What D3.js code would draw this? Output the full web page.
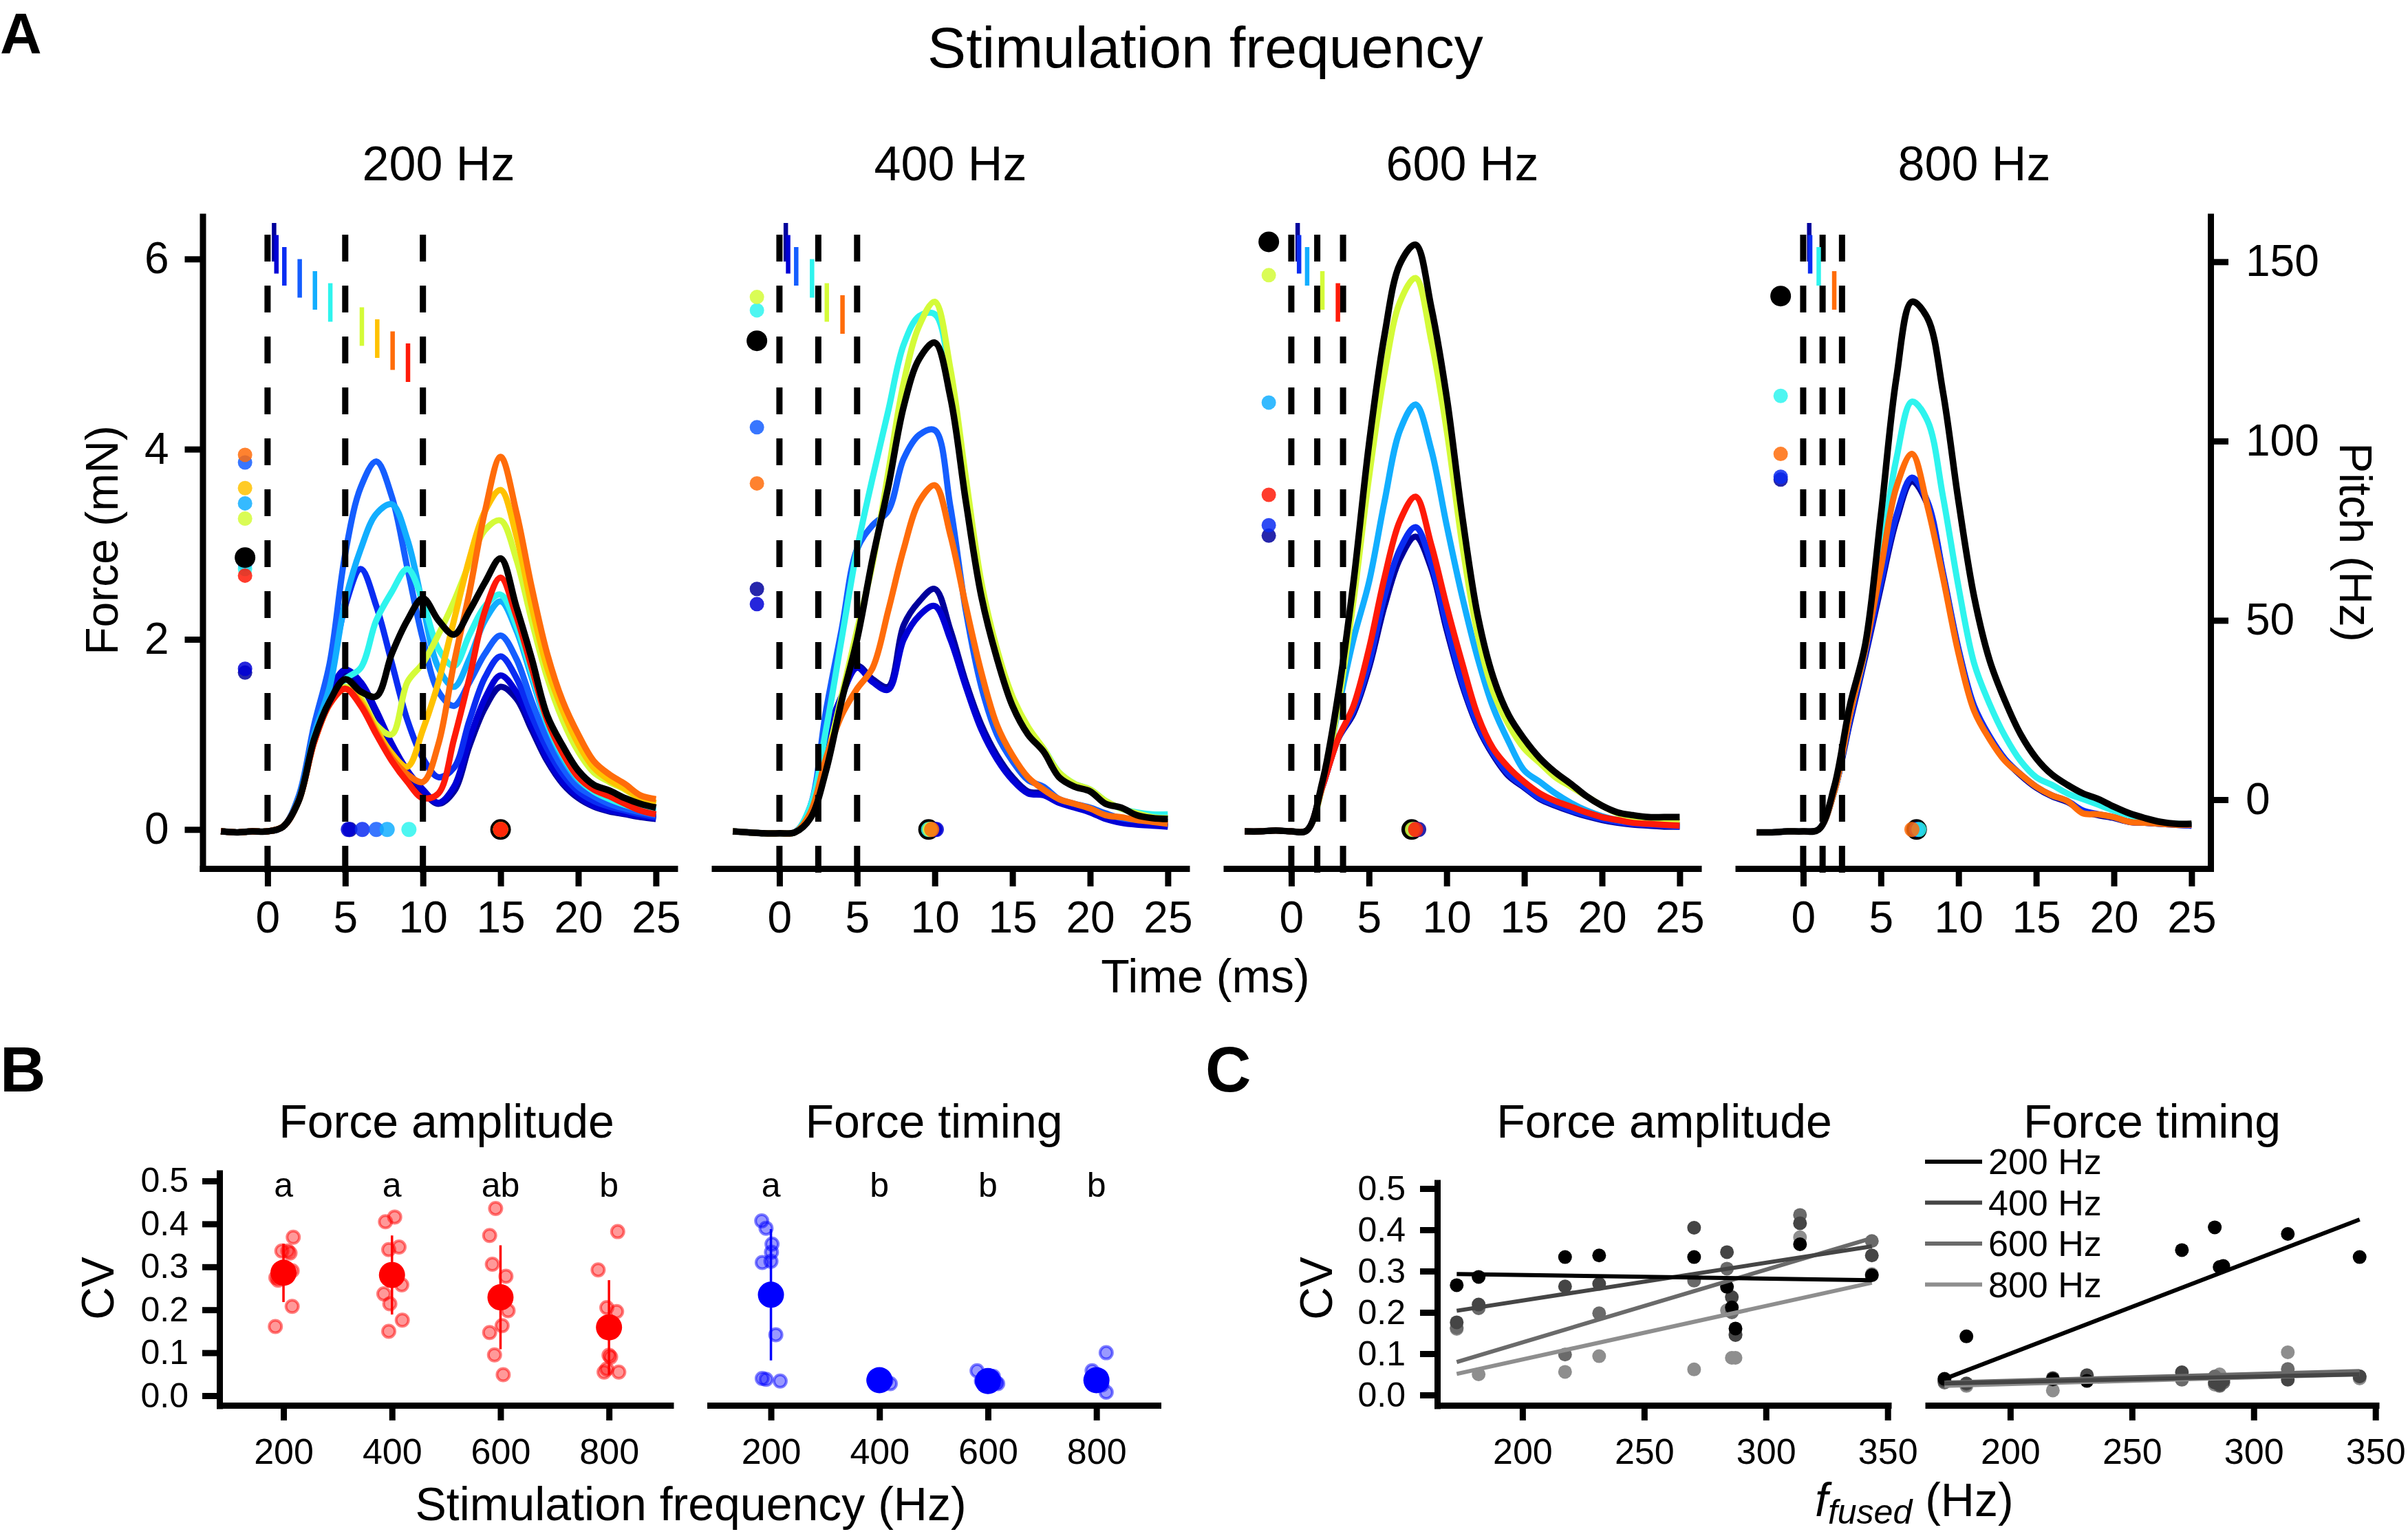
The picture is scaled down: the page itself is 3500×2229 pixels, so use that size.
<!DOCTYPE html>
<html><head><meta charset="utf-8">
<script src="https://cdn.jsdelivr.net/npm/d3@7"></script>
<style>body{margin:0;background:#fff}svg{display:block}</style>
</head><body><svg id="fig" width="3500" height="2229"></svg>
<script>
// ---------------- DATA : panel A ----------------
const timeMs = [-3,-2,-1,0,1,2,3,4,5,6,7,8,9,10,11,12,13,14,15,16,17,18,19,20,21,22,23,24,25];
const panelTitles = ["200 Hz","400 Hz","600 Hz","800 Hz"];
const pulseTimes = [[0,5,10],[0,2.5,5],[0,1.67,3.33],[0,1.25,2.5]];
const forceTicks = [0,2,4,6];
const pitchTicks = [0,50,100,150];
const timeTicks = [0,5,10,15,20,25];

// 200 Hz traces (force, mN, at timeMs)
const f200_navy   = [-0.02,-0.03,-0.02,-0.02,0.03,0.32,1.0,1.45,1.65,1.52,1.22,0.88,0.6,0.4,0.27,0.4,0.88,1.28,1.5,1.38,1.05,0.72,0.48,0.33,0.24,0.19,0.16,0.13,0.11];
const f200_dblue  = [-0.02,-0.03,-0.02,-0.02,0.03,0.32,1.0,1.45,1.68,1.55,1.25,0.9,0.62,0.42,0.28,0.45,0.95,1.38,1.62,1.45,1.1,0.75,0.5,0.35,0.25,0.2,0.17,0.14,0.12];
const f200_blue   = [-0.02,-0.03,-0.02,-0.02,0.03,0.33,1.05,1.6,2.35,2.74,2.35,1.75,1.15,0.75,0.55,0.65,1.15,1.6,1.82,1.6,1.2,0.85,0.58,0.4,0.3,0.24,0.2,0.16,0.13];
const f200_royal  = [-0.02,-0.03,-0.02,-0.02,0.03,0.35,1.1,1.75,2.9,3.6,3.87,3.5,2.75,2.0,1.45,1.3,1.55,1.85,2.04,1.8,1.35,0.95,0.65,0.45,0.35,0.27,0.22,0.18,0.15];
const f200_lblue  = [-0.02,-0.03,-0.02,-0.02,0.03,0.32,1.0,1.5,2.4,2.95,3.32,3.42,3.05,2.35,1.7,1.5,1.8,2.2,2.4,2.1,1.6,1.1,0.75,0.52,0.4,0.32,0.26,0.22,0.2];
const f200_cyan   = [-0.02,-0.03,-0.02,-0.02,0.03,0.3,0.95,1.35,1.58,1.7,2.2,2.5,2.74,2.4,1.9,1.72,2.05,2.35,2.47,2.15,1.65,1.12,0.78,0.54,0.4,0.32,0.26,0.21,0.19];
const f200_yg     = [-0.02,-0.03,-0.02,-0.02,0.03,0.3,0.92,1.32,1.5,1.38,1.1,1.0,1.55,1.75,2.05,2.4,2.8,3.15,3.25,2.85,2.2,1.6,1.15,0.82,0.6,0.5,0.42,0.32,0.27];
const f200_gold   = [-0.02,-0.03,-0.02,-0.02,0.03,0.3,0.92,1.32,1.48,1.35,1.05,0.8,0.66,1.05,1.55,2.2,2.85,3.35,3.57,3.1,2.35,1.7,1.25,0.9,0.65,0.52,0.43,0.33,0.28];
const f200_orange = [-0.02,-0.03,-0.02,-0.02,0.03,0.3,0.92,1.32,1.48,1.32,1.02,0.75,0.58,0.5,0.9,1.75,2.5,3.35,3.92,3.35,2.55,1.85,1.35,1.0,0.72,0.58,0.48,0.36,0.32];
const f200_red    = [-0.02,-0.03,-0.02,-0.02,0.03,0.3,0.92,1.32,1.48,1.3,1.0,0.72,0.5,0.33,0.38,0.95,1.6,2.3,2.65,2.25,1.7,1.15,0.8,0.55,0.42,0.35,0.27,0.2,0.16];
const f200_black  = [-0.02,-0.03,-0.02,-0.02,0.03,0.3,0.95,1.35,1.58,1.45,1.4,1.85,2.2,2.43,2.2,2.05,2.3,2.6,2.85,2.35,1.8,1.2,0.88,0.62,0.47,0.41,0.33,0.27,0.23];
const keys200   = ["navy","dblue","blue","royal","lblue","cyan","yg","gold","orange","red","black"];
const max200    = [1.65,1.69,2.79,3.86,3.43,2.74,3.27,3.59,3.94,2.67,2.86];
const peakT200  = [5.3,5.2,6.1,7.0,7.7,9.1,15,15,15,15,15];
const bar200    = [0.42,0.57,1.08,2.07,3.05,4.04,6.07,7.06,8.05,9.04];
const barRow200 = [0,1,2,3,4,5,7,8,9,10];

// 400 Hz traces
const f400_navy   = [-0.02,-0.03,-0.04,-0.04,-0.03,0.2,0.95,1.4,1.72,1.58,1.5,2.15,2.4,2.53,2.1,1.55,1.1,0.78,0.55,0.4,0.38,0.3,0.25,0.2,0.12,0.08,0.06,0.05,0.04];
const f400_dblue  = [-0.02,-0.03,-0.04,-0.04,-0.03,0.2,0.95,1.4,1.7,1.55,1.47,2.0,2.25,2.35,2.0,1.5,1.05,0.74,0.52,0.38,0.36,0.28,0.23,0.18,0.11,0.07,0.05,0.04,0.03];
const f400_royal  = [-0.02,-0.03,-0.04,-0.04,-0.03,0.25,1.25,2.1,2.95,3.2,3.35,3.9,4.15,4.2,3.4,2.3,1.5,1.0,0.72,0.52,0.45,0.32,0.27,0.23,0.17,0.12,0.1,0.1,0.08];
const f400_cyan   = [-0.02,-0.03,-0.04,-0.04,-0.03,0.25,1.05,2.0,2.95,3.7,4.4,5.1,5.4,5.42,4.75,3.6,2.55,1.85,1.35,1.05,0.85,0.6,0.48,0.42,0.3,0.22,0.18,0.16,0.16];
const f400_yg     = [-0.02,-0.03,-0.04,-0.04,-0.03,0.15,0.72,1.4,2.1,2.8,3.75,4.7,5.3,5.55,4.85,3.7,2.6,1.9,1.4,1.08,0.85,0.6,0.48,0.42,0.3,0.22,0.17,0.13,0.12];
const f400_orange = [-0.02,-0.03,-0.04,-0.04,-0.03,0.18,0.75,1.2,1.48,1.7,2.3,2.95,3.45,3.62,3.1,2.35,1.65,1.1,0.78,0.55,0.42,0.32,0.27,0.22,0.15,0.13,0.1,0.08,0.06];
const f400_black  = [-0.02,-0.03,-0.04,-0.04,-0.03,0.12,0.62,1.35,2.0,2.85,3.6,4.45,4.95,5.12,4.55,3.45,2.45,1.8,1.3,1.0,0.82,0.55,0.45,0.4,0.27,0.23,0.15,0.12,0.11];
const keys400   = ["navy","dblue","royal","cyan","yg","orange","black"];
const max400    = [2.53,2.37,4.23,5.46,5.6,3.64,5.14];
const peakT400  = [10.0,10.1,9.7,9.6,9.7,9.8,9.6];
const bar400    = [0.41,0.56,1.08,2.1,3.05,4.06];
const barRow400 = [0,1,2,3,5,6];

// 600 Hz traces
const f600_navy   = [-0.02,-0.02,-0.01,-0.02,-0.01,0.45,0.95,1.22,1.7,2.35,2.85,3.08,2.75,2.1,1.52,1.08,0.78,0.56,0.44,0.32,0.25,0.19,0.14,0.1,0.07,0.05,0.04,0.03,0.03];
const f600_blue   = [-0.02,-0.02,-0.01,-0.02,-0.01,0.45,0.95,1.25,1.75,2.45,2.95,3.18,2.8,2.15,1.55,1.1,0.8,0.58,0.45,0.33,0.26,0.2,0.15,0.11,0.08,0.06,0.05,0.04,0.03];
const f600_lblue  = [-0.02,-0.02,-0.01,-0.02,-0.01,0.45,1.25,2.0,2.6,3.45,4.2,4.47,4.0,3.2,2.45,1.8,1.28,0.92,0.62,0.5,0.38,0.28,0.2,0.14,0.1,0.08,0.07,0.06,0.05];
const f600_yg     = [-0.02,-0.02,-0.01,-0.02,-0.01,0.45,1.3,2.4,3.7,4.8,5.55,5.8,5.15,4.2,3.0,2.05,1.45,1.1,0.85,0.7,0.55,0.45,0.35,0.25,0.17,0.12,0.1,0.09,0.08];
const f600_red    = [-0.02,-0.02,-0.01,-0.02,-0.01,0.45,0.95,1.3,1.9,2.65,3.25,3.5,3.0,2.35,1.75,1.2,0.85,0.65,0.5,0.38,0.3,0.24,0.18,0.13,0.1,0.07,0.06,0.05,0.04];
const f600_black  = [-0.02,-0.02,-0.01,-0.02,-0.01,0.5,1.4,2.6,4.05,5.2,5.95,6.15,5.5,4.55,3.3,2.25,1.6,1.2,0.95,0.75,0.6,0.48,0.35,0.25,0.18,0.15,0.13,0.13,0.13];
const keys600   = ["navy","blue","lblue","yg","red","black"];
const max600    = [3.09,3.2,4.49,5.83,3.52,6.18];
const peakT600  = [8.2,8.0,7.9,7.8,8.0,7.75];
const bar600    = [0.41,0.5,1.02,2.0,3.0];
const barRow600 = [0,1,2,4,5];

// 800 Hz traces
const f800_navy   = [-0.03,-0.03,-0.02,-0.02,0.0,0.4,1.12,1.82,2.55,3.25,3.66,3.42,2.68,1.88,1.28,0.97,0.73,0.57,0.44,0.35,0.29,0.19,0.15,0.12,0.08,0.07,0.06,0.05,0.04];
const f800_blue   = [-0.03,-0.03,-0.02,-0.02,0.0,0.4,1.15,1.85,2.6,3.3,3.7,3.45,2.7,1.9,1.3,0.98,0.74,0.58,0.45,0.36,0.3,0.2,0.16,0.13,0.08,0.07,0.06,0.05,0.04];
const f800_cyan   = [-0.03,-0.03,-0.02,-0.02,0.0,0.4,1.2,1.9,2.9,3.9,4.5,4.3,3.5,2.55,1.75,1.32,0.98,0.72,0.55,0.47,0.38,0.32,0.26,0.2,0.15,0.1,0.07,0.06,0.05];
const f800_orange = [-0.03,-0.03,-0.02,-0.02,0.0,0.4,1.2,1.9,2.75,3.6,3.95,3.4,2.65,1.85,1.25,0.95,0.72,0.58,0.45,0.36,0.3,0.17,0.16,0.13,0.08,0.07,0.06,0.05,0.05];
const f800_black  = [-0.03,-0.03,-0.02,-0.02,0.0,0.45,1.3,1.95,3.3,4.75,5.55,5.38,4.6,3.45,2.45,1.78,1.35,1.0,0.75,0.58,0.47,0.38,0.32,0.24,0.17,0.12,0.08,0.06,0.06];
const keys800   = ["navy","blue","cyan","orange","black"];
const max800    = [3.68,3.71,4.56,3.95,5.61];
const peakT800  = [7.3,7.3,7.45,7.0,7.3];
const bar800    = [0.39,0.45,1.0,2.0];
const barRow800 = [0,1,2,4];

// ---------------- DATA : panel B ----------------
const stimFreq = [200,400,600,800];
const ampMean = [0.286,0.281,0.229,0.159];
const ampSD   = [0.068,0.092,0.121,0.11];
const ampLetters = ["a","a","ab","b"];
const amp200 = [0.369,0.337,0.337,0.332,0.291,0.269,0.275,0.208,0.161,0.3];
const amp400 = [0.405,0.416,0.340,0.346,0.258,0.237,0.214,0.176,0.150,0.28];
const amp600 = [0.436,0.373,0.306,0.278,0.198,0.163,0.147,0.095,0.049,0.24];
const amp800 = [0.382,0.293,0.205,0.196,0.094,0.062,0.055,0.055,0.09,0.16];
const ampJit200 = [18,-3,8,12,16,-10,-14,16,-15,0];
const ampJit400 = [-12,5,-6,13,18,-15,-4,19,-6,0];
const ampJit600 = [-9,-20,-15,10,14,3,-20,-11,5,0];
const ampJit800 = [16,-20,-4,14,0,-4,-9,18,3,0];
const timMean = [0.235,0.036,0.034,0.036];
const timSD   = [0.153,0.01,0.01,0.012];
const timLetters = ["a","b","b","b"];
const tim200 = [0.407,0.39,0.353,0.334,0.31,0.313,0.142,0.04,0.038,0.034];
const tim400 = [0.036,0.04,0.03,0.045,0.028,0.038,0.033,0.042,0.035,0.032];
const tim600 = [0.058,0.03,0.028,0.04,0.035,0.032,0.045,0.03,0.038,0.034];
const tim800 = [0.1,0.058,0.008,0.04,0.035,0.03,0.045,0.025,0.038,0.032];
const timJit200 = [-17,-9,2,1,-16,0,9,-16,-9,17];
const timJit400 = [-10,0,5,-5,20,8,-3,2,12,-6];
const timJit600 = [-20,15,18,5,-5,0,10,-8,3,-12];
const timJit800 = [18,-8,18,0,5,-5,8,10,-3,3];
const cvTicks = [0,0.1,0.2,0.3,0.4,0.5];

// ---------------- DATA : panel C ----------------
const fusedHz = [173,182,217.5,231.5,270.5,284,286,287.5,314,343.5];
const cvAmp200 = [0.266,0.286,0.334,0.338,0.334,0.262,0.212,0.161,0.365,0.29];
const cvAmp400 = [0.176,0.219,0.263,0.269,0.405,0.346,0.237,0.145,0.416,0.338];
const cvAmp600 = [0.163,0.21,0.098,0.198,0.277,0.306,0.2,0.147,0.436,0.373];
const cvAmp800 = [0.16,0.05,0.056,0.094,0.062,0.205,0.09,0.09,0.382,0.293];
const cvTim200 = [0.039,0.142,0.038,0.034,0.351,0.406,0.31,0.3125,0.39,0.334];
const cvTim400 = [0.034,0.028,0.041,0.048,0.055,0.03,0.025,0.035,0.037,0.045];
const cvTim600 = [0.03,0.026,0.037,0.037,0.037,0.045,0.022,0.03,0.063,0.045];
const cvTim800 = [0.034,0.022,0.011,0.042,0.045,0.025,0.05,0.03,0.1035,0.04];
const fitX = [173,343.5];
const fitAmp200 = [0.293,0.278], fitAmp400 = [0.204,0.36], fitAmp600 = [0.08,0.38], fitAmp800 = [0.051,0.272];
const fitTim200 = [0.039,0.425], fitTim400 = [0.028,0.05], fitTim600 = [0.03,0.058], fitTim800 = [0.022,0.05];
const fusedTicks = [200,250,300,350];
const legendLabels = ["200 Hz","400 Hz","600 Hz","800 Hz"];

// ---------------- STYLE ----------------
const FONT = '"Liberation Sans", Arial, Helvetica, sans-serif';
const COL = {navy:"#00009c", dblue:"#0000d6", blue:"#0a2cf2", royal:"#155eff", lblue:"#12aeff",
  cyan:"#2ef4ee", yg:"#d4fb38", gold:"#ffc200", orange:"#ff6c0a", red:"#ff1a08", black:"#000000"};
const GREYS = ["#000000","#454545","#6a6a6a","#8e8e8e"];

const svg = d3.select("#fig");
svg.append("rect").attr("width",3500).attr("height",2229).attr("fill","#fff");

function styleAxis(g, fs, sw){
  g.select("path.domain").attr("stroke-width", sw).attr("stroke","#000");
  g.selectAll(".tick line").attr("stroke-width", sw).attr("stroke","#000");
  g.selectAll(".tick text").style("font-size", fs+"px").style("font-family", FONT).attr("fill","#000");
}
function txt(x,y,s,fs,opts={}){
  const t = svg.append("text").attr("x",x).attr("y",y).text(s)
    .style("font-family",FONT).style("font-size",fs+"px")
    .attr("text-anchor", opts.anchor||"middle").attr("fill","#000");
  if(opts.bold) t.style("font-weight","bold");
  if(opts.rot!==undefined) t.attr("transform",`rotate(${opts.rot},${x},${y})`);
  return t;
}

// ---------------- PANEL A ----------------
const aLeft = [290,1034,1778,2522], aW = 695;
const yA = d3.scaleLinear().domain([-0.443,6.48]).range([1266.5,310]);
const yP = d3.scaleLinear().domain([-20.06,163.5]).range([1266.5,310]);
const rowY = d3.scaleLinear().domain([0,10]).range([324,499]);

const panelsA = [
  {keys:keys200, tr:[f200_navy,f200_dblue,f200_blue,f200_royal,f200_lblue,f200_cyan,f200_yg,f200_gold,f200_orange,f200_red,f200_black], mx:max200, pk:peakT200, bars:bar200, rows:barRow200},
  {keys:keys400, tr:[f400_navy,f400_dblue,f400_royal,f400_cyan,f400_yg,f400_orange,f400_black], mx:max400, pk:peakT400, bars:bar400, rows:barRow400},
  {keys:keys600, tr:[f600_navy,f600_blue,f600_lblue,f600_yg,f600_red,f600_black], mx:max600, pk:peakT600, bars:bar600, rows:barRow600},
  {keys:keys800, tr:[f800_navy,f800_blue,f800_cyan,f800_orange,f800_black], mx:max800, pk:peakT800, bars:bar800, rows:barRow800}
];

panelsA.forEach((p,i)=>{
  const x = d3.scaleLinear().domain([-4.38,26.4]).range([aLeft[i],aLeft[i]+aW]);
  const g = svg.append("g");
  const line = d3.line().x((d,j)=>x(timeMs[j])).y(d=>yA(d)).curve(d3.curveCatmullRom.alpha(0.5));
  p.keys.forEach((k,j)=>{ if(k!=="black") g.append("path").attr("d",line(p.tr[j])).attr("fill","none")
      .attr("stroke",COL[k]).attr("stroke-width",9).attr("stroke-linejoin","round"); });
  p.keys.forEach((k,j)=>{ if(k==="black") g.append("path").attr("d",line(p.tr[j])).attr("fill","none")
      .attr("stroke","#000").attr("stroke-width",9.5).attr("stroke-linejoin","round"); });
  pulseTimes[i].forEach(t=>{
    g.append("line").attr("x1",x(t)).attr("x2",x(t)).attr("y1",341).attr("y2",1287)
      .attr("stroke","#000").attr("stroke-width",9).attr("stroke-dasharray","39 35");
  });
  p.bars.forEach((t,j)=>{
    g.append("line").attr("x1",x(t)).attr("x2",x(t)).attr("y1",rowY(p.rows[j])).attr("y2",rowY(p.rows[j])+56)
      .attr("stroke",COL[p.keys[j]]).attr("stroke-width",6.5);
  });
  p.keys.forEach((k,j)=>{
    g.append("circle").attr("cx",x(-1.45)).attr("cy",yA(p.mx[j])).attr("r",k==="black"?15:10.5)
      .attr("fill",COL[k]).attr("fill-opacity",k==="black"?1:0.85);
  });
  p.keys.forEach((k,j)=>{ if(k==="black") g.append("circle").attr("cx",x(p.pk[j])).attr("cy",yA(0)).attr("r",15).attr("fill","#000"); });
  p.keys.forEach((k,j)=>{ if(k!=="black") g.append("circle").attr("cx",x(p.pk[j])).attr("cy",yA(0)).attr("r",11)
      .attr("fill",COL[k]).attr("fill-opacity",0.85); });
  const gx = svg.append("g").attr("transform","translate(0,1262)")
    .call(d3.axisBottom(x).tickValues(timeTicks).tickFormat(d3.format("d")).tickSize(26).tickSizeOuter(0).tickPadding(22));
  styleAxis(gx,64,9);
  txt(aLeft[i]+aW/2, 262, panelTitles[i], 70);
});
const gyA = svg.append("g").attr("transform","translate(294.5,0)")
  .call(d3.axisLeft(yA).tickValues(forceTicks).tickFormat(d3.format("d")).tickSize(26).tickSizeOuter(0).tickPadding(23));
styleAxis(gyA,64,9);
const gyP = svg.append("g").attr("transform","translate(3213,0)")
  .call(d3.axisRight(yP).tickValues(pitchTicks).tickFormat(d3.format("d")).tickSize(26).tickSizeOuter(0).tickPadding(25));
styleAxis(gyP,64,9);

txt(0,78,"A",84,{anchor:"start",bold:true});
txt(1752,98,"Stimulation frequency",84);
txt(1752,1442,"Time (ms)",68);
txt(171,785,"Force (mN)",66,{rot:-90});
txt(3401,788,"Pitch (Hz)",66,{rot:90});

// ---------------- PANEL B ----------------
const yB = d3.scaleLinear().domain([-0.0304,0.5256]).range([2047,1700]);
const xB = [d3.scaleLinear().domain([82,919]).range([319,979]),
            d3.scaleLinear().domain([82,919]).range([1027.5,1687.5])];
const bSets = [
  {pts:[amp200,amp400,amp600,amp800], jit:[ampJit200,ampJit400,ampJit600,ampJit800], mean:ampMean, sd:ampSD, letters:ampLetters, col:"#ff0000", title:"Force amplitude"},
  {pts:[tim200,tim400,tim600,tim800], jit:[timJit200,timJit400,timJit600,timJit800], mean:timMean, sd:timSD, letters:timLetters, col:"#0000ff", title:"Force timing"}
];
bSets.forEach((s,k)=>{
  const x = xB[k];
  const g = svg.append("g");
  stimFreq.forEach((f,i)=>{
    s.pts[i].forEach((v,j)=>{
      g.append("circle").attr("cx",x(f+s.jit[i][j])).attr("cy",yB(v)).attr("r",9)
        .attr("fill",s.col).attr("fill-opacity",0.4).attr("stroke",s.col).attr("stroke-opacity",0.5).attr("stroke-width",4);
    });
    g.append("line").attr("x1",x(f)).attr("x2",x(f)).attr("y1",yB(s.mean[i]-s.sd[i])).attr("y2",yB(s.mean[i]+s.sd[i]))
      .attr("stroke",s.col).attr("stroke-width",3.5);
    g.append("circle").attr("cx",x(f)).attr("cy",yB(s.mean[i])).attr("r",19).attr("fill",s.col);
    txt(x(f),1739,s.letters[i],50);
  });
  const gx = svg.append("g").attr("transform","translate(0,2042)")
    .call(d3.axisBottom(x).tickValues(stimFreq).tickFormat(d3.format("d")).tickSize(22).tickSizeOuter(0).tickPadding(26));
  styleAxis(gx,52,9);
  txt((x.range()[0]+x.range()[1])/2,1653,s.title,68);
});
const gyB = svg.append("g").attr("transform","translate(319,0)")
  .call(d3.axisLeft(yB).tickValues(cvTicks).tickFormat(d3.format(".1f")).tickSize(25).tickSizeOuter(0).tickPadding(20));
styleAxis(gyB,50,9);
txt(0,1586,"B",92,{anchor:"start",bold:true});
txt(165,1872,"CV",66,{rot:-90});
txt(1004,2209,"Stimulation frequency (Hz)",68);

// ---------------- PANEL C ----------------
const yC = d3.scaleLinear().domain([-0.0333,0.5217]).range([2047,1714]);
const xC = [d3.scaleLinear().domain([165,351.5]).range([2089,2749]),
            d3.scaleLinear().domain([165,351.5]).range([2798,3458])];
const cSets = [
  {pts:[cvAmp200,cvAmp400,cvAmp600,cvAmp800], fit:[fitAmp200,fitAmp400,fitAmp600,fitAmp800], title:"Force amplitude"},
  {pts:[cvTim200,cvTim400,cvTim600,cvTim800], fit:[fitTim200,fitTim400,fitTim600,fitTim800], title:"Force timing"}
];
cSets.forEach((s,k)=>{
  const x = xC[k];
  const g = svg.append("g");
  [3,2,1,0].forEach(i=>{
    s.pts[i].forEach((v,j)=>{
      g.append("circle").attr("cx",x(fusedHz[j])).attr("cy",yC(v)).attr("r",10).attr("fill",GREYS[i]);
    });
  });
  [3,2,1,0].forEach(i=>{
    g.append("line").attr("x1",x(fitX[0])).attr("x2",x(fitX[1])).attr("y1",yC(s.fit[i][0])).attr("y2",yC(s.fit[i][1]))
      .attr("stroke",GREYS[i]).attr("stroke-width",6);
  });
  const gx = svg.append("g").attr("transform","translate(0,2042)")
    .call(d3.axisBottom(x).tickValues(fusedTicks).tickFormat(d3.format("d")).tickSize(22).tickSizeOuter(0).tickPadding(26));
  styleAxis(gx,52,9);
  txt((x.range()[0]+x.range()[1])/2,1653,s.title,68);
});
const gyC = svg.append("g").attr("transform","translate(2089,0)")
  .call(d3.axisLeft(yC).tickValues(cvTicks).tickFormat(d3.format(".1f")).tickSize(25).tickSizeOuter(0).tickPadding(21));
styleAxis(gyC,50,9);
txt(1752,1586,"C",92,{anchor:"start",bold:true});
txt(1936,1872,"CV",66,{rot:-90});
legendLabels.forEach((l,i)=>{
  const yy = 1688 + i*59.5;
  svg.append("line").attr("x1",2798).attr("x2",2881).attr("y1",yy).attr("y2",yy).attr("stroke",GREYS[i]).attr("stroke-width",6);
  txt(2890,yy+18,l,52,{anchor:"start"});
});
const fl = svg.append("text").attr("x",2638).attr("y",2203).style("font-family",FONT).attr("fill","#000");
fl.append("tspan").text("f").style("font-size","68px").style("font-style","italic");
fl.append("tspan").text("fused").style("font-size","50px").style("font-style","italic").attr("dy",11);
fl.append("tspan").text(" (Hz)").style("font-size","68px").attr("dy",-11);
</script></body></html>
